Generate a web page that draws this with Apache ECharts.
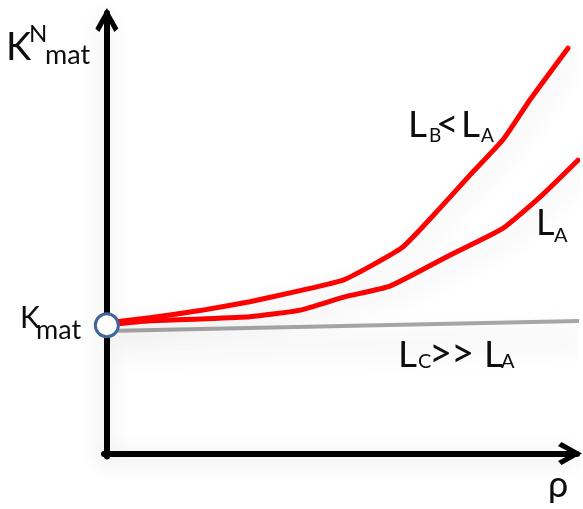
<!DOCTYPE html>
<html>
<head>
<meta charset="utf-8">
<script src="https://cdn.jsdelivr.net/npm/echarts@6/dist/echarts.min.js"></script>
<style>
  html, body { margin: 0; padding: 0; background: #ffffff; }
  #chart { width: 583px; height: 509px; }
</style>
</head>
<body>
<div id="chart"></div>
<script>
// Density ρ (arbitrary units) and matrix stiffness for three length scales
const rhoB = [0, 9.1, 19.6, 30.1, 40.7, 50.1, 62.1, 70.2, 76.5, 83.4, 89.1, 97.1];
const kB   = [29.3, 30.5, 32.1, 34.1, 36.6, 39.1, 46.2, 55.2, 62.6, 70.5, 79.5, 91.1];
const rhoA = [0, 9.1, 19.6, 30.1, 40.7, 50.1, 59.6, 72.3, 83.4, 91.2, 99.2];
const kA   = [28.9, 29.8, 30.2, 30.7, 32.2, 35.2, 37.6, 44.6, 50.6, 57.6, 65.9];
const rhoC = [0, 101];
const kC   = [27.5, 29.8];
const kMatPoint = [0, 28.8];

const zip = (xs, ys) => xs.map((x, i) => [x, ys[i]]);

const FONT = 'Lato, "Noto Sans", sans-serif';
const INK = '#0d0d0d';

// one run of text placed by its baseline (textBaseline 'middle' sits ~0.32em above it)
function piece(text, x, baseline, size) {
  return {
    type: 'text',
    x: x,
    y: baseline - 0.3225 * size,
    silent: true,
    z: 20,
    style: {
      text: text,
      fontSize: size,
      fontFamily: FONT,
      fill: INK,
      align: 'left',
      verticalAlign: 'middle'
    }
  };
}

// open chevron arrow head, pointing up in symbol space
const chevron = 'path://M11.5,0 L23,20.5 L19,24 L11.5,10 L4,24 L0,20.5 Z';

const axisLineStyle = {
  color: '#000000',
  width: 6,
  shadowBlur: 22,
  shadowColor: 'rgba(0,0,0,0.14)',
  shadowOffsetX: -2,
  shadowOffsetY: 4
};

const redLine = {
  color: '#ff0000',
  width: 5,
  cap: 'round',
  join: 'round',
  shadowBlur: 24,
  shadowColor: 'rgba(0,0,0,0.12)',
  shadowOffsetX: 8,
  shadowOffsetY: 8
};

const chart = echarts.init(document.getElementById('chart'), null, { renderer: 'canvas' });

chart.setOption({
  backgroundColor: '#ffffff',
  animation: false,
  grid: { left: 104, right: 6, top: 13, bottom: 52.5, containLabel: false },
  xAxis: {
    type: 'value',
    min: -0.6,
    max: 99,
    axisLine: {
      show: true,
      onZero: true,
      symbol: ['none', chevron],
      symbolSize: [23, 24],
      symbolOffset: [0, -7],
      lineStyle: axisLineStyle
    },
    axisTick: { show: false },
    axisLabel: { show: false },
    splitLine: { show: false }
  },
  yAxis: {
    type: 'value',
    min: -0.7,
    max: 99,
    axisLine: {
      show: true,
      onZero: true,
      symbol: ['none', chevron],
      symbolSize: [23, 24],
      symbolOffset: [0, -7],
      lineStyle: axisLineStyle
    },
    axisTick: { show: false },
    axisLabel: { show: false },
    splitLine: { show: false }
  },
  series: [
    {
      name: 'L_C >> L_A',
      type: 'line',
      data: zip(rhoC, kC),
      showSymbol: false,
      clip: false,
      z: 2,
      lineStyle: {
        color: '#a6a6a6',
        width: 4,
        shadowBlur: 30,
        shadowColor: 'rgba(0,0,0,0.22)',
        shadowOffsetY: 18
      }
    },
    {
      name: 'L_A',
      type: 'line',
      data: zip(rhoA, kA),
      showSymbol: false,
      smooth: 0.15,
      clip: false,
      z: 3,
      lineStyle: redLine
    },
    {
      name: 'L_B < L_A',
      type: 'line',
      data: zip(rhoB, kB),
      showSymbol: false,
      smooth: 0.15,
      clip: false,
      z: 3,
      lineStyle: redLine
    },
    {
      name: 'K_mat',
      type: 'scatter',
      data: [kMatPoint],
      symbol: 'circle',
      symbolSize: 23,
      clip: false,
      z: 6,
      itemStyle: {
        color: '#ffffff',
        opacity: 1,
        borderColor: '#41659b',
        borderWidth: 3
      }
    }
  ],
  graphic: [
    // axis titles
    piece('K', 6, 60, 38),
    piece('N', 29, 42, 24),
    piece('mat', 45, 64, 27),
    piece('K', 20, 328, 30),
    piece('mat', 36, 339, 27),
    piece('ρ', 548, 497, 36),
    // curve annotations
    piece('L', 408, 137, 37),
    piece('B', 429, 142, 19),
    piece('<', 436, 137, 39),
    piece('L', 461, 137, 37),
    piece('A', 481, 142, 19),
    piece('L', 536, 235, 36),
    piece('A', 554, 242, 20),
    piece('L', 398, 367, 37),
    piece('C', 418, 368, 20),
    piece('>', 429, 367, 40),
    piece('>', 451, 367, 40),
    piece('L', 484, 367, 37),
    piece('A', 501, 368, 20)
  ]
});
</script>
</body>
</html>
